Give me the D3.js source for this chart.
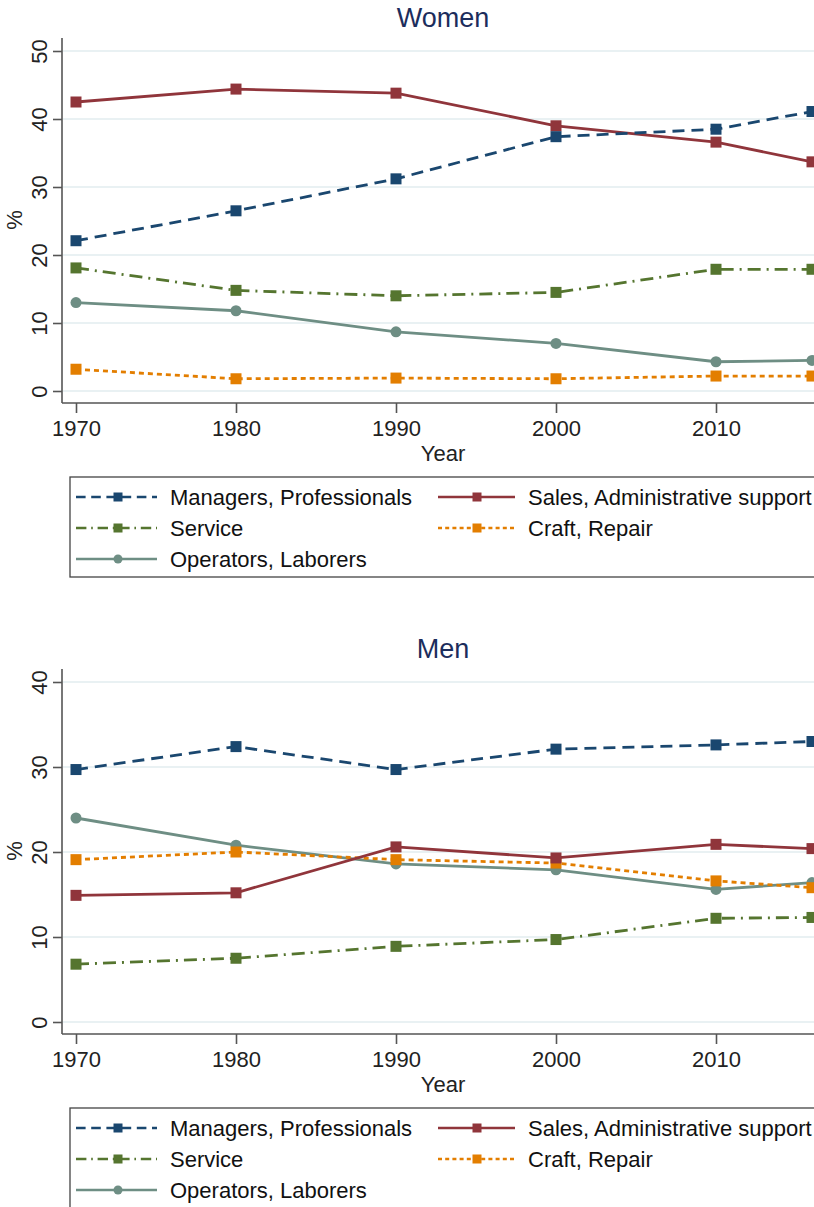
<!DOCTYPE html>
<html>
<head>
<meta charset="utf-8">
<script src="https://cdn.jsdelivr.net/npm/d3@7"></script>
<style>
  html, body { margin: 0; padding: 0; background: #fff; }
  svg { display: block; font-family: "Liberation Sans", Arial, sans-serif; }
</style>
</head>
<body>
<svg id="chart" width="814" height="1207"></svg>
<script>
// ---- Data ----
const years = [1970, 1980, 1990, 2000, 2010, 2016];
const xTicks = [1970, 1980, 1990, 2000, 2010];
const seriesNames = ["Managers, Professionals", "Sales, Administrative support", "Service", "Craft, Repair", "Operators, Laborers"];

const womenManagers = [22.1, 26.5, 31.2, 37.4, 38.5, 41.1];
const womenSales = [42.5, 44.4, 43.8, 39.0, 36.6, 33.7];
const womenService = [18.1, 14.8, 14.0, 14.5, 17.9, 17.9];
const womenCraft = [3.2, 1.8, 1.9, 1.8, 2.2, 2.2];
const womenOperators = [13.0, 11.8, 8.7, 7.0, 4.3, 4.5];
const womenYTicks = [0, 10, 20, 30, 40, 50];

const menManagers = [29.7, 32.4, 29.7, 32.1, 32.6, 33.0];
const menSales = [14.9, 15.2, 20.6, 19.3, 20.9, 20.4];
const menService = [6.8, 7.5, 8.9, 9.7, 12.2, 12.3];
const menCraft = [19.1, 20.0, 19.1, 18.7, 16.6, 15.8];
const menOperators = [24.0, 20.8, 18.6, 17.9, 15.6, 16.4];
const menYTicks = [0, 10, 20, 30, 40];

// ---- Styles ----
const styles = [
  { color: "#1a476f", dash: "12,7", marker: "square" },
  { color: "#90353b", dash: null, marker: "square" },
  { color: "#55752f", dash: "13,6,2,6", marker: "square" },
  { color: "#e37e00", dash: "5,4", marker: "square" },
  { color: "#6e8e84", dash: null, marker: "circle" }
];
const drawOrder = [4, 3, 2, 1, 0];

const svg = d3.select("#chart");
const x = d3.scaleLinear().domain([1970, 2016]).range([76, 812]);
const FS = 22;

function drawPanel(offset, title, seriesData, yMax, yTicks) {
  const g = svg.append("g").attr("transform", `translate(0,${offset})`);
  const y = d3.scaleLinear().domain([0, yMax]).range([391, 51]);

  g.append("text").attr("x", 443).attr("y", 27).attr("text-anchor", "middle")
    .attr("font-size", 27).attr("fill", "#1c2d5c").text(title);

  g.append("g").selectAll("line").data(yTicks).join("line")
    .attr("x1", 63).attr("x2", 814)
    .attr("y1", d => y(d)).attr("y2", d => y(d))
    .attr("stroke", "#e9f1f3").attr("stroke-width", 2);

  const yAxis = g.append("g").attr("transform", "translate(62,0)")
    .call(d3.axisLeft(y).tickValues(yTicks).tickSize(9).tickPadding(6).tickFormat(d3.format("d")));
  yAxis.select(".domain").attr("d", `M0,38V403`).attr("stroke", "#555").attr("stroke-width", 1.6);
  yAxis.selectAll(".tick line").attr("stroke", "#555").attr("stroke-width", 1.6);
  yAxis.selectAll(".tick text")
    .attr("font-size", FS).attr("fill", "#222")
    .attr("font-family", "Liberation Sans, Arial, sans-serif")
    .attr("x", null).attr("dy", null)
    .attr("text-anchor", "middle")
    .attr("transform", "translate(-21,0) rotate(-90)")
    .attr("y", 0).attr("dominant-baseline", "middle");

  const xAxis = g.append("g").attr("transform", "translate(0,403)")
    .call(d3.axisBottom(x).tickValues(xTicks).tickSize(10).tickPadding(7).tickFormat(d3.format("d")));
  xAxis.select(".domain").attr("d", `M62,0H814`).attr("stroke", "#555").attr("stroke-width", 1.6);
  xAxis.selectAll(".tick line").attr("stroke", "#555").attr("stroke-width", 1.6);
  xAxis.selectAll(".tick text").attr("font-size", FS).attr("fill", "#222")
    .attr("font-family", "Liberation Sans, Arial, sans-serif");

  g.append("text").attr("x", 443).attr("y", 461).attr("text-anchor", "middle")
    .attr("font-size", FS).attr("fill", "#222").text("Year");
  g.append("text").attr("transform", "translate(22,220) rotate(-90)").attr("text-anchor", "middle")
    .attr("font-size", FS).attr("fill", "#222").text("%");

  const line = d3.line().x((d, i) => x(years[i])).y(d => y(d));
  drawOrder.forEach(si => {
    const st = styles[si];
    const vals = seriesData[si];
    g.append("path").datum(vals).attr("d", line)
      .attr("fill", "none").attr("stroke", st.color).attr("stroke-width", 2.8)
      .attr("stroke-dasharray", st.dash);
    const pts = g.append("g").selectAll(null).data(vals).enter();
    if (st.marker === "square") {
      pts.append("rect").attr("x", (d, i) => x(years[i]) - 5.5).attr("y", d => y(d) - 5.5)
        .attr("width", 11).attr("height", 11).attr("fill", st.color);
    } else {
      pts.append("circle").attr("cx", (d, i) => x(years[i])).attr("cy", d => y(d))
        .attr("r", 5.5).attr("fill", st.color);
    }
  });

  const lg = g.append("g");
  lg.append("rect").attr("x", 70).attr("y", 477).attr("width", 760).attr("height", 100)
    .attr("fill", "#fff").attr("stroke", "#444").attr("stroke-width", 1.3);
  const pos = [
    { sx: 76, ex: 157, mx: 118, tx: 170, y: 497 },
    { sx: 438, ex: 515, mx: 477, tx: 528, y: 497 },
    { sx: 76, ex: 157, mx: 118, tx: 170, y: 528 },
    { sx: 438, ex: 515, mx: 477, tx: 528, y: 528 },
    { sx: 76, ex: 157, mx: 118, tx: 170, y: 559 }
  ];
  seriesNames.forEach((name, si) => {
    const p = pos[si], st = styles[si];
    lg.append("line").attr("x1", p.sx).attr("x2", p.ex).attr("y1", p.y).attr("y2", p.y)
      .attr("stroke", st.color).attr("stroke-width", 2.6)
      .attr("stroke-dasharray", st.dash ? st.dash.split(",").map(v => +v * 0.8).join(",") : null);
    if (st.marker === "square") {
      lg.append("rect").attr("x", p.mx - 4.5).attr("y", p.y - 4.5).attr("width", 9).attr("height", 9).attr("fill", st.color);
    } else {
      lg.append("circle").attr("cx", p.mx).attr("cy", p.y).attr("r", 4.5).attr("fill", st.color);
    }
    lg.append("text").attr("x", p.tx).attr("y", p.y).attr("dy", "0.36em")
      .attr("font-size", FS).attr("fill", "#111").text(name);
  });
}

drawPanel(0, "Women", [womenManagers, womenSales, womenService, womenCraft, womenOperators], 50, womenYTicks);
drawPanel(631, "Men", [menManagers, menSales, menService, menCraft, menOperators], 40, menYTicks);
</script>
</body>
</html>
